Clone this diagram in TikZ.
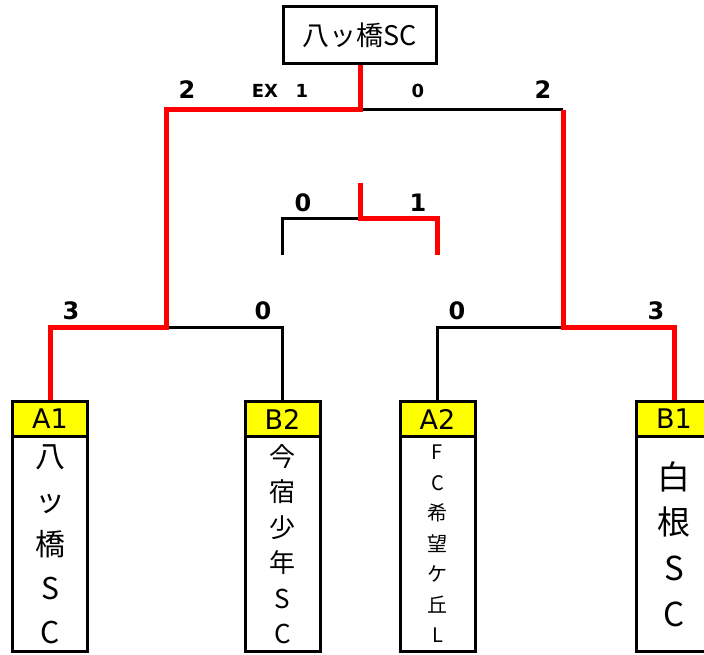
\documentclass[tikz,border=0pt]{standalone}
\usepackage{fontspec}
\setmainfont{DejaVu Sans}
\newfontfamily\jpfont{Noto Sans CJK JP}
\usetikzlibrary{positioning}
\definecolor{winRed}{HTML}{FF0000}
\definecolor{seedYellow}{HTML}{FFFF00}

\begin{document}
\begin{tikzpicture}[x=1pt,y=-1pt,
  win/.style={draw=winRed,line width=5pt},
  lose/.style={draw=black,line width=3pt},
  seed/.style={draw,line width=3pt,fill=seedYellow,minimum width=75pt,minimum height=35pt,inner sep=0pt,font=\fontsize{27}{27}\selectfont},
  team/.style={draw,line width=3pt,fill=white,minimum width=75pt,minimum height=215pt,inner sep=0pt,align=center},
  score/.style={font=\bfseries\fontsize{24}{24}\selectfont,inner sep=0pt},
  subscore/.style={font=\bfseries\fontsize{18}{18}\selectfont,inner sep=0pt}]
  \useasboundingbox (0,0) rectangle (704,655);
  \clip (0,0) rectangle (704,655);
  \fill[white] (0,0) rectangle (704,655);

  %% champion
  \node[draw,line width=3pt,minimum width=153pt,minimum height=57pt,font=\jpfont\fontsize{27}{27}\selectfont] (champ) at (360,35) {八ッ橋SC};

  %% teams
  % A1
  \node[seed] (hA1) at (50,419) {A1};
  \node[team,font=\jpfont\fontsize{30}{44}\selectfont] (tA1) at (50,544) {八\\ッ\\橋\\S\\C};
  % B2
  \node[seed] (hB2) at (282.5,419) {B2};
  \node[team,font=\jpfont\fontsize{26}{35.5}\selectfont] (tB2) at (282.5,544) {今\\宿\\少\\年\\S\\C};
  % A2
  \node[seed] (hA2) at (437.5,419) {A2};
  \node[team,font=\jpfont\fontsize{20}{30.5}\selectfont] (tA2) at (437.5,544) {F\\C\\希\\望\\ケ\\丘\\L};
  % B1
  \node[seed] (hB1) at (674,419) {B1};
  \node[team,font=\jpfont\fontsize{33}{45.7}\selectfont] (tB1) at (674,544) {白\\根\\S\\C};

  %% bracket
  \coordinate (semiL) at (166,327);
  \coordinate (semiR) at (563,327);
  \coordinate (final) at (360,110);
  \coordinate (finalR) at (563,110);
  \coordinate (third) at (360,219);
  \coordinate (thirdTop) at (360,183);
  \coordinate (thirdL) at (282.5,255);
  \coordinate (thirdR) at (437,255);

  % losing lines
  \draw[lose] (hB2.north) |- (semiL);
  \draw[lose] (hA2.north) |- (semiR);
  \draw[lose] (final) -- (finalR);
  \draw[lose] (thirdL) |- (third);
  % winning lines
  \draw[win] (hA1.north) |- (semiL) |- (final) -- (champ.south);
  \draw[win] (hB1.north) |- (semiR) -- (finalR);
  \draw[win] (thirdTop) -- (third) -| (thirdR);

  %% scores
  % semi finals
  \node[score] (sA1) at (71,311) {3};
  \node[score] (sB2) at (263,311) {0};
  \node[score] (sA2) at (457,311) {0};
  \node[score] (sB1) at (656,311) {3};
  % final
  \node[score] (sL) at (187,90) {2};
  \node[subscore] (sEX) at (265,91) {EX};
  \node[subscore] (sLex) at (302,91) {1};
  \node[subscore] (sRex) at (418,91) {0};
  \node[score] (sR) at (543,90) {2};
  % third place
  \node[score] (tL) at (303,203) {0};
  \node[score] (tR) at (418,203) {1};
\end{tikzpicture}
\end{document}
